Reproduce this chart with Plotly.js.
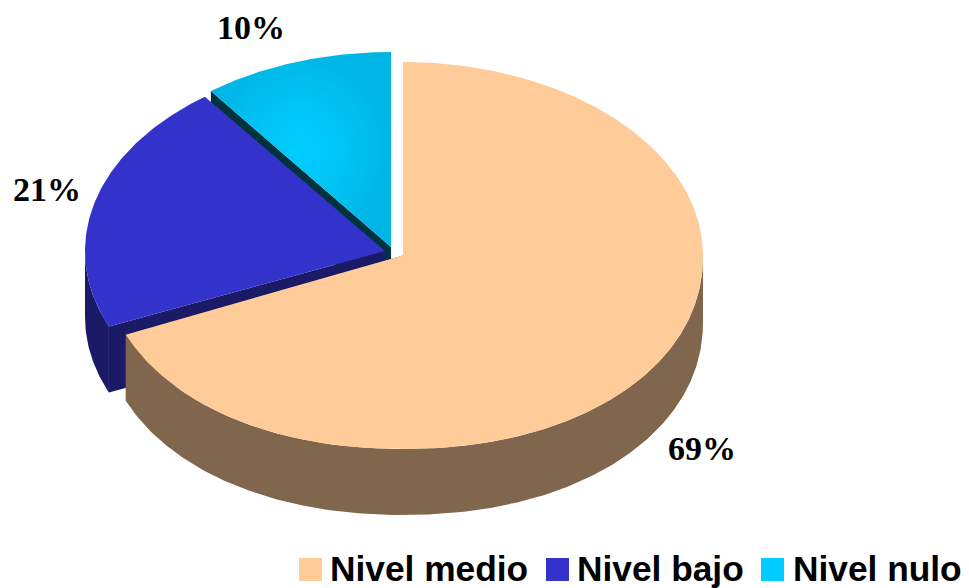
<!DOCTYPE html>
<html>
<head>
<meta charset="utf-8">
<script src="https://cdn.plot.ly/plotly-3.0.1.min.js"></script>
<style>html,body{margin:0;padding:0;background:#fff}#chart{width:969px;height:588px}</style>
</head>
<body>
<div id="chart"></div>
<script>
var categories = ["Nivel medio", "Nivel bajo", "Nivel nulo"];
var shares = [68.6, 21.15, 10.25];
var topColors = ["#FFCC99", "#3333CC", "#00CCFF"];
var sideColors = ["#80664C", "#1A1A66", "#003340"];

// Projection of each exploded slice (screen units of the axes below)
var centres = [[403, 255.5], [385, 251], [391, 247]];
var radii = [[300, 193.5], [300, 193], [300, 195]];
var depth = 66;
// the near half of the large disc is slightly fuller than an ellipse
var nearBulge = [0.952, 1, 1];

function pt(i, deg, dy) {
  var a = deg * Math.PI / 180, s = Math.sin(a), c = Math.cos(a);
  if (c < 0) {
    s = (s < 0 ? -1 : 1) * Math.pow(Math.abs(s), nearBulge[i]);
    c = -Math.pow(Math.abs(c), nearBulge[i]);
  }
  return [centres[i][0] + radii[i][0] * s, centres[i][1] - radii[i][1] * c + (dy || 0)];
}
function arc(i, from, to, dy) {
  var n = Math.max(2, Math.ceil(Math.abs(to - from) * 1.5)), out = [];
  for (var k = 0; k <= n; k++) out.push(pt(i, from + (to - from) * k / n, dy));
  return out;
}
function poly(points, color, name, extra) {
  var t = {
    type: "scatter", mode: "lines", fill: "toself", fillcolor: color,
    x: points.map(function (p) { return p[0]; }),
    y: points.map(function (p) { return p[1]; }),
    line: { width: 0, color: color }, name: name, showlegend: false, hoverinfo: "skip"
  };
  for (var key in (extra || {})) t[key] = extra[key];
  return t;
}

var spans = [], acc = 0;
shares.forEach(function (v) { spans.push([acc * 3.6, (acc + v) * 3.6]); acc += v; });

function topFace(i) {
  return [centres[i]].concat(arc(i, spans[i][0], spans[i][1])).concat([centres[i]]);
}
function rimFace(i, from, to) {
  return arc(i, from, to).concat(arc(i, to, from, depth));
}
function cutFace(i, deg) {
  var e = pt(i, deg), c = centres[i];
  return [c, e, [e[0], e[1] + depth], [c[0], c[1] + depth], c];
}

var traces = [];
// nulo (back slice): cut face, then top
traces.push(poly(cutFace(2, spans[2][0]), sideColors[2], categories[2] + " lado"));
traces.push(poly(topFace(2), topColors[2], categories[2], {
  fillgradient: { type: "radial", colorscale: [[0, "#00CCFF"], [0.5, "#00C4F4"], [1, "#00B6E6"]] }
}));
// bajo: cut face, outer rim, top
traces.push(poly(cutFace(1, spans[1][0]), sideColors[1], categories[1] + " lado"));
traces.push(poly(rimFace(1, spans[1][0], 270), sideColors[1], categories[1] + " borde"));
traces.push(poly(topFace(1), topColors[1], categories[1]));
// medio: cut face, outer rim, top
traces.push(poly(cutFace(0, spans[0][1]), sideColors[0], categories[0] + " lado"));
traces.push(poly(rimFace(0, 90, spans[0][1]), sideColors[0], categories[0] + " borde"));
traces.push(poly(topFace(0), topColors[0], categories[0]));

// legend swatches
var swatchX = [310.5, 557.5, 772.5];
var textX = [328, 575, 791];
var legendY = 569.5;
var legendTextY = 568.5;
traces.push({
  type: "scatter", mode: "markers", x: swatchX, y: swatchX.map(function () { return legendY; }),
  marker: { symbol: "square", size: 23, color: topColors, line: { width: 0 } },
  showlegend: false, hoverinfo: "skip"
});

var labelPos = [[702, 448], [47, 189.5], [250.5, 27]];
var annotations = categories.map(function (c, i) {
  return { x: textX[i], y: legendTextY, xref: "x", yref: "y", text: c, showarrow: false, xanchor: "left", yanchor: "middle",
    font: { family: "Liberation Sans, Arial, sans-serif", size: 35.3, color: "#000", weight: 700 } };
}).concat(shares.map(function (v, i) {
  return { x: labelPos[i][0], y: labelPos[i][1], xref: "x", yref: "y", text: Math.round(v) + "%", showarrow: false,
    font: { family: "Liberation Serif, Times New Roman, serif", size: 34, color: "#000", weight: 700 } };
}));

var hiddenAxis = { visible: false, fixedrange: true, showgrid: false, zeroline: false };
var layout = {
  width: 969, height: 588, margin: { l: 0, r: 0, t: 0, b: 0 },
  paper_bgcolor: "#fff", plot_bgcolor: "#fff", showlegend: false, hovermode: false,
  xaxis: Object.assign({ range: [0, 969] }, hiddenAxis),
  yaxis: Object.assign({ range: [588, 0] }, hiddenAxis),
  annotations: annotations
};
Plotly.newPlot("chart", traces, layout, { displayModeBar: false, staticPlot: true });
</script>
</body>
</html>
